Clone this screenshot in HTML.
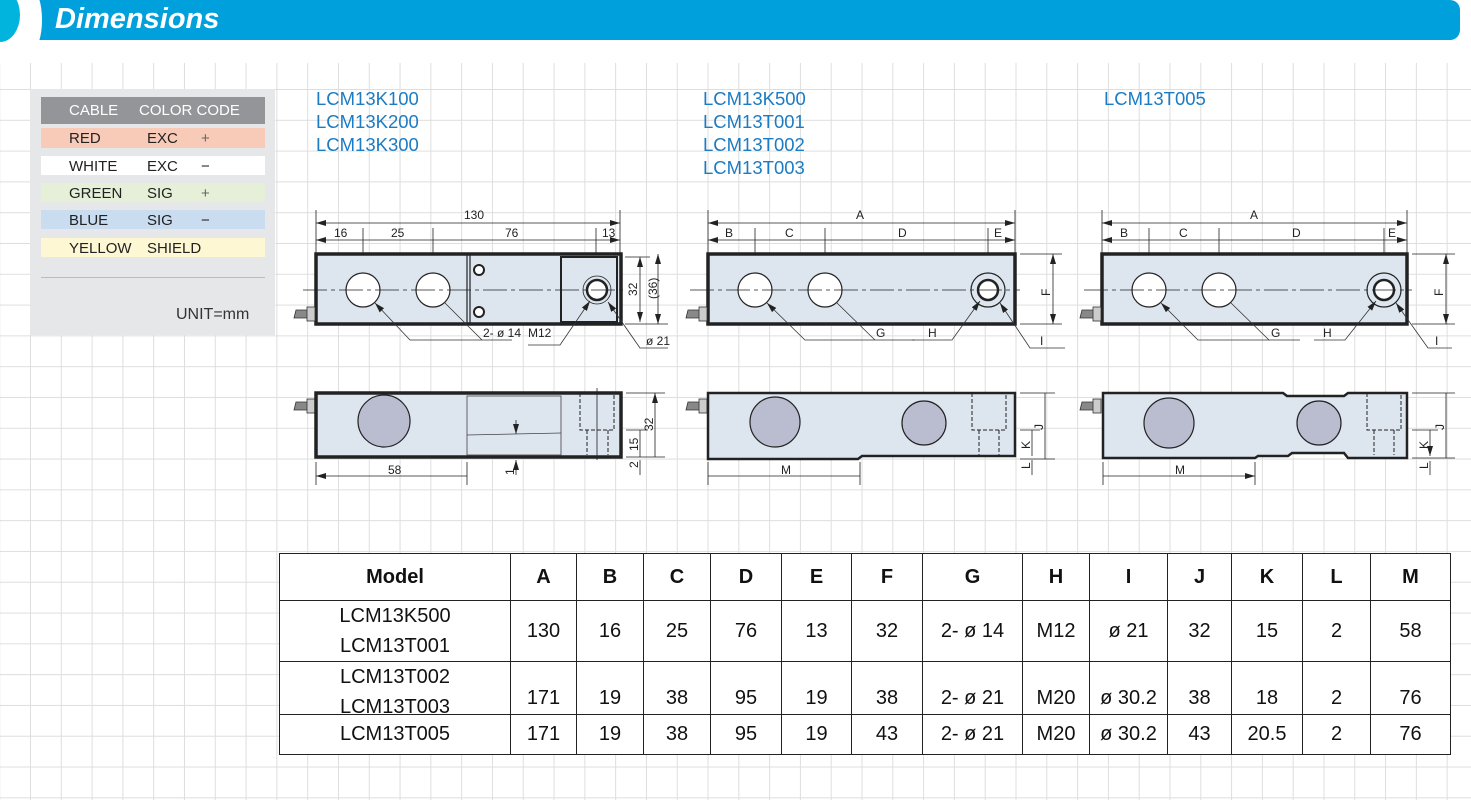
<!DOCTYPE html>
<html><head><meta charset="utf-8"><style>
html,body{margin:0;padding:0;width:1471px;height:800px;overflow:hidden;background:#fff;font-family:"Liberation Sans",sans-serif;}
.grid{position:absolute;left:0;top:63px;width:1471px;height:737px;
background-image:linear-gradient(to right,#dedede 1px,transparent 1px),linear-gradient(to bottom,#dedede 1px,transparent 1px);
background-size:30.8px 30.8px;background-position:30px 26px;}
.abs{position:absolute;}
.row{position:absolute;left:41px;width:224px;font-size:15px;color:#222;}
.row span{position:absolute;top:2px;}
.blue{color:#1b7cc4;font-size:18.5px;line-height:23px;}
table{position:absolute;left:279px;top:553px;border-collapse:collapse;background:#fff;}
td{border:1px solid #222;text-align:center;font-size:20px;color:#111;padding:0;}
tr.h td{font-weight:bold;height:46px;}
</style></head><body>
<div class="grid"></div>
<!-- header -->
<div class="abs" style="left:30px;top:0;width:1430px;height:40px;background:#00a0dc;border-radius:0 10px 10px 0;"></div>
<div class="abs" style="left:22px;top:-10px;width:20px;height:60px;background:#fff;border-radius:50%;"></div>
<div class="abs" style="left:-20px;top:-12px;width:40px;height:54px;background:#00b4dd;border-radius:50%;"></div>
<div class="abs" style="left:55px;top:3px;color:#fff;font-size:29px;font-weight:bold;font-style:italic;">Dimensions</div>
<!-- color code -->
<div class="abs" style="left:30px;top:89px;width:245px;height:246px;background:#e6e7e8;"></div>
<div class="abs" style="left:41px;top:97px;width:224px;height:27px;background:#939598;"></div>
<div class="row" style="top:100px;color:#fff;"><span style="left:28px">CABLE</span><span style="left:98px">COLOR CODE</span></div>
<div class="row" style="top:128px;height:20px;background:#f8cbb8;"><span style="left:28px">RED</span><span style="left:106px">EXC</span><span style="left:160px;color:#666">+</span></div>
<div class="row" style="top:156px;height:19px;background:#fff;"><span style="left:28px">WHITE</span><span style="left:106px">EXC</span><span style="left:160px">−</span></div>
<div class="row" style="top:183px;height:19px;background:#e6f0d8;"><span style="left:28px">GREEN</span><span style="left:106px">SIG</span><span style="left:160px;color:#666">+</span></div>
<div class="row" style="top:210px;height:19px;background:#c9dcf0;"><span style="left:28px">BLUE</span><span style="left:106px">SIG</span><span style="left:160px">−</span></div>
<div class="row" style="top:238px;height:19px;background:#fdf8d3;"><span style="left:28px">YELLOW</span><span style="left:106px">SHIELD</span></div>
<div class="abs" style="left:41px;top:277px;width:224px;height:1px;background:#bbb;"></div>
<div class="abs" style="left:176px;top:306px;font-size:16px;color:#333;">UNIT=mm</div>
<!-- model names -->
<div class="abs blue" style="left:316px;top:87px;">LCM13K100<br>LCM13K200<br>LCM13K300</div>
<div class="abs blue" style="left:703px;top:87px;">LCM13K500<br>LCM13T001<br>LCM13T002<br>LCM13T003</div>
<div class="abs blue" style="left:1104px;top:87px;">LCM13T005</div>

<svg class="abs" style="left:0;top:0" width="1471" height="800" font-family="Liberation Sans, sans-serif" font-size="12" fill="#222">
<defs>
<marker id="a" viewBox="0 0 10 6" refX="10" refY="3" markerWidth="10" markerHeight="6" orient="auto-start-reverse" markerUnits="userSpaceOnUse"><path d="M0,0L10,3L0,6z" fill="#222"/></marker>
</defs>
<g stroke="#222" stroke-width="0.8" fill="none">
<path d="M316 210V254M620 210V254M363 228V300M433 228V300M596 228V300"/>
<path d="M316 223H620" marker-start="url(#a)" marker-end="url(#a)"/>
<path d="M316 240H363M363 240H433M433 240H596M596 240H620" marker-start="url(#a)" marker-end="url(#a)"/>
<path d="M625 257H650M625 324H668"/>
<path d="M640 257V322" marker-start="url(#a)" marker-end="url(#a)"/>
<path d="M658 254V324" marker-start="url(#a)" marker-end="url(#a)"/>
<path d="M708 210V254M1015 210V254M755 228V300M825 228V300M988 228V300"/>
<path d="M708 223H1015" marker-start="url(#a)" marker-end="url(#a)"/>
<path d="M708 240H755M755 240H825M825 240H988M988 240H1015" marker-start="url(#a)" marker-end="url(#a)"/>
<path d="M1020 254H1062M1020 324H1062"/>
<path d="M1053 254V324" marker-start="url(#a)" marker-end="url(#a)"/>
<path d="M1102 210V254M1407 210V254M1149 228V300M1219 228V300M1384 228V300"/>
<path d="M1102 223H1407" marker-start="url(#a)" marker-end="url(#a)"/>
<path d="M1102 240H1149M1149 240H1219M1219 240H1384M1384 240H1407" marker-start="url(#a)" marker-end="url(#a)"/>
<path d="M1412 254H1455M1412 324H1455"/>
<path d="M1446 254V324" marker-start="url(#a)" marker-end="url(#a)"/>
</g>
<g stroke="#222" fill="#dde5ef">
<rect x="316" y="254" width="305" height="70" stroke-width="3.5"/>
<rect x="708" y="254" width="307" height="70" stroke-width="3.5"/>
<rect x="1102" y="254" width="305" height="70" stroke-width="3.5"/>
<rect x="561" y="257" width="56" height="65" stroke-width="2"/>
</g>
<g stroke="#222" fill="none">
<path d="M467 255V323M470 255V323" stroke-width="1.2"/>
</g>
<g stroke="#222" stroke-width="1.2" fill="#fff">
<circle cx="363" cy="290" r="17"/><circle cx="433" cy="290" r="17"/>
<circle cx="479" cy="270" r="5" stroke-width="2"/><circle cx="479" cy="312" r="5" stroke-width="2"/>
<circle cx="597" cy="290" r="14" stroke-width="0.8" fill="#dde5ef"/><circle cx="597" cy="290" r="10" stroke-width="2.5"/>
<circle cx="755" cy="290" r="17"/><circle cx="825" cy="290" r="17"/>
<circle cx="988" cy="290" r="17" fill="#dde5ef"/><circle cx="988" cy="290" r="10" stroke-width="2.5"/>
<circle cx="1149" cy="290" r="17"/><circle cx="1219" cy="290" r="17"/>
<circle cx="1384" cy="290" r="17" fill="#dde5ef"/><circle cx="1384" cy="290" r="10" stroke-width="2.5"/>
</g>
<g stroke="#222" stroke-width="0.8" fill="none" stroke-dasharray="24,4,4,4">
<path d="M303 290H626M690 290H1020M1084 290H1412"/>
</g>
<g fill="#888" stroke="#333" stroke-width="0.8">
<path d="M296 310h14v8h-16z"/><rect x="307" y="307" width="8" height="14" fill="#ccc"/>
<path d="M688 310h14v8h-16z"/><rect x="699" y="307" width="8" height="14" fill="#ccc"/>
<path d="M1082 310h14v8h-16z"/><rect x="1093" y="307" width="8" height="14" fill="#ccc"/>
<path d="M296 402h14v8h-16z"/><rect x="307" y="399" width="8" height="14" fill="#ccc"/>
<path d="M688 402h14v8h-16z"/><rect x="699" y="399" width="8" height="14" fill="#ccc"/>
<path d="M1082 402h14v8h-16z"/><rect x="1093" y="399" width="8" height="14" fill="#ccc"/>
</g>
<g stroke="#333" stroke-width="0.8" fill="none">
<path d="M375 303L410 340H512M445 303L482 340" marker-start="url(#a)"/>
<path d="M590 301L560 345H528" marker-start="url(#a)"/>
<path d="M608 302L640 348H668" marker-start="url(#a)"/>
<path d="M767 303L805 340H915M837 303L875 340" marker-start="url(#a)"/>
<path d="M980 301L952 340H912" marker-start="url(#a)"/>
<path d="M1000 303L1030 348H1065" marker-start="url(#a)"/>
<path d="M1161 303L1198 340H1300M1231 303L1269 340" marker-start="url(#a)"/>
<path d="M1376 301L1345 340H1314" marker-start="url(#a)"/>
<path d="M1396 303L1428 348H1452" marker-start="url(#a)"/>
</g>
<g stroke="#222" fill="#dde5ef">
<rect x="316" y="393" width="305" height="64" stroke-width="3.5"/>
<path d="M708 393H1015V456H862L858 459H708Z" stroke-width="2.5"/>
<path d="M1103 393H1283L1287 396H1344L1348 393H1407V458H1348L1344 453H1292L1288 456H1258L1255 458H1103Z" stroke-width="2.5"/>
</g>
<g stroke="#222" stroke-width="1.2" fill="#b9bdcf">
<circle cx="384" cy="421" r="26"/>
<circle cx="775" cy="422" r="25"/><circle cx="924" cy="423" r="22"/>
<circle cx="1169" cy="423" r="25"/><circle cx="1319" cy="423" r="22"/>
</g>
<g stroke="#444" stroke-width="0.8" fill="none">
<rect x="467" y="396" width="94" height="59"/>
<path d="M467 435L561 433"/>
</g>
<g stroke="#222" stroke-width="1" fill="none" stroke-dasharray="4,2">
<path d="M580 393V430H614V393M587 430V455M608 430V455"/>
<path d="M972 393V430H1006V393M979 430V455M999 430V455"/>
<path d="M1367 393V430H1401V393M1374 430V455M1394 430V455"/>
</g>
<g stroke="#222" stroke-width="0.8" fill="none">
<path d="M597 388V460M316 462V485M467 462V485M708 462V485M860 462V485M1103 462V485M1255 462V485"/>
<path d="M316 476H467M708 476H860M1103 476H1255" marker-start="url(#a)" marker-end="url(#a)"/>
<path d="M626 393H665M626 430H648M626 457H665M1020 393H1055M1020 430H1040M1020 459H1055M1412 393H1455M1412 430H1438M1412 458H1455"/>
<path d="M655 393V457M640 430V457M1045 393V459M1032 430V456M1446 393V458M1430 430V456" marker-start="url(#a)" marker-end="url(#a)"/>
<path d="M640 475V460M1032 475V460M1430 475V461M516 475V460" marker-end="url(#a)"/>
<path d="M516 420V434" marker-end="url(#a)"/>
</g>
<g font-size="12">
<text x="464" y="219">130</text><text x="334" y="237">16</text><text x="391" y="237">25</text><text x="505" y="237">76</text><text x="602" y="237">13</text>
<text x="483" y="337">2- ø 14</text><text x="528" y="337">M12</text><text x="646" y="345">ø 21</text>
<text x="388" y="474">58</text>
<text x="856" y="219">A</text><text x="725" y="237">B</text><text x="785" y="237">C</text><text x="898" y="237">D</text><text x="994" y="237">E</text>
<text x="876" y="337">G</text><text x="928" y="337">H</text><text x="1040" y="345">I</text>
<text x="781" y="474">M</text>
<text x="1250" y="219">A</text><text x="1120" y="237">B</text><text x="1179" y="237">C</text><text x="1292" y="237">D</text><text x="1388" y="237">E</text>
<text x="1271" y="337">G</text><text x="1323" y="337">H</text><text x="1435" y="345">I</text>
<text x="1175" y="474">M</text>
</g>
<g font-size="12">
<text transform="translate(637,296) rotate(-90)">32</text>
<text transform="translate(657,299) rotate(-90)">(36)</text>
<text transform="translate(653,431) rotate(-90)">32</text>
<text transform="translate(638,451) rotate(-90)">15</text>
<text transform="translate(638,468) rotate(-90)">2</text>
<text transform="translate(514,475) rotate(-90)">1</text>
<text transform="translate(1050,296) rotate(-90)">F</text>
<text transform="translate(1043,430) rotate(-90)">J</text>
<text transform="translate(1030,449) rotate(-90)">K</text>
<text transform="translate(1030,469) rotate(-90)">L</text>
<text transform="translate(1443,296) rotate(-90)">F</text>
<text transform="translate(1444,430) rotate(-90)">J</text>
<text transform="translate(1428,449) rotate(-90)">K</text>
<text transform="translate(1428,469) rotate(-90)">L</text>
</g>
</svg>

<table>
<colgroup><col style="width:231px"><col style="width:66px"><col style="width:67px"><col style="width:67px"><col style="width:71px"><col style="width:70px"><col style="width:71px"><col style="width:100px"><col style="width:67px"><col style="width:78px"><col style="width:64px"><col style="width:71px"><col style="width:68px"><col style="width:80px"></colgroup>
<tr class="h"><td>Model</td><td>A</td><td>B</td><td>C</td><td>D</td><td>E</td><td>F</td><td>G</td><td>H</td><td>I</td><td>J</td><td>K</td><td>L</td><td>M</td></tr>
<tr style="height:61px"><td style="line-height:30px">LCM13K500<br>LCM13T001</td><td>130</td><td>16</td><td>25</td><td>76</td><td>13</td><td>32</td><td>2- ø 14</td><td>M12</td><td>ø 21</td><td>32</td><td>15</td><td>2</td><td>58</td></tr>
<tr style="height:53px"><td style="line-height:30px;vertical-align:top;overflow:hidden"><div style="height:52px;overflow:visible">LCM13T002<br>LCM13T003</div></td><td style="vertical-align:bottom;padding-bottom:4px">171</td><td style="vertical-align:bottom;padding-bottom:4px">19</td><td style="vertical-align:bottom;padding-bottom:4px">38</td><td style="vertical-align:bottom;padding-bottom:4px">95</td><td style="vertical-align:bottom;padding-bottom:4px">19</td><td style="vertical-align:bottom;padding-bottom:4px">38</td><td style="vertical-align:bottom;padding-bottom:4px">2- ø 21</td><td style="vertical-align:bottom;padding-bottom:4px">M20</td><td style="vertical-align:bottom;padding-bottom:4px">ø 30.2</td><td style="vertical-align:bottom;padding-bottom:4px">38</td><td style="vertical-align:bottom;padding-bottom:4px">18</td><td style="vertical-align:bottom;padding-bottom:4px">2</td><td style="vertical-align:bottom;padding-bottom:4px">76</td></tr>
<tr style="height:40px"><td>LCM13T005</td><td>171</td><td>19</td><td>38</td><td>95</td><td>19</td><td>43</td><td>2- ø 21</td><td>M20</td><td>ø 30.2</td><td>43</td><td>20.5</td><td>2</td><td>76</td></tr>
</table>
</body></html>
